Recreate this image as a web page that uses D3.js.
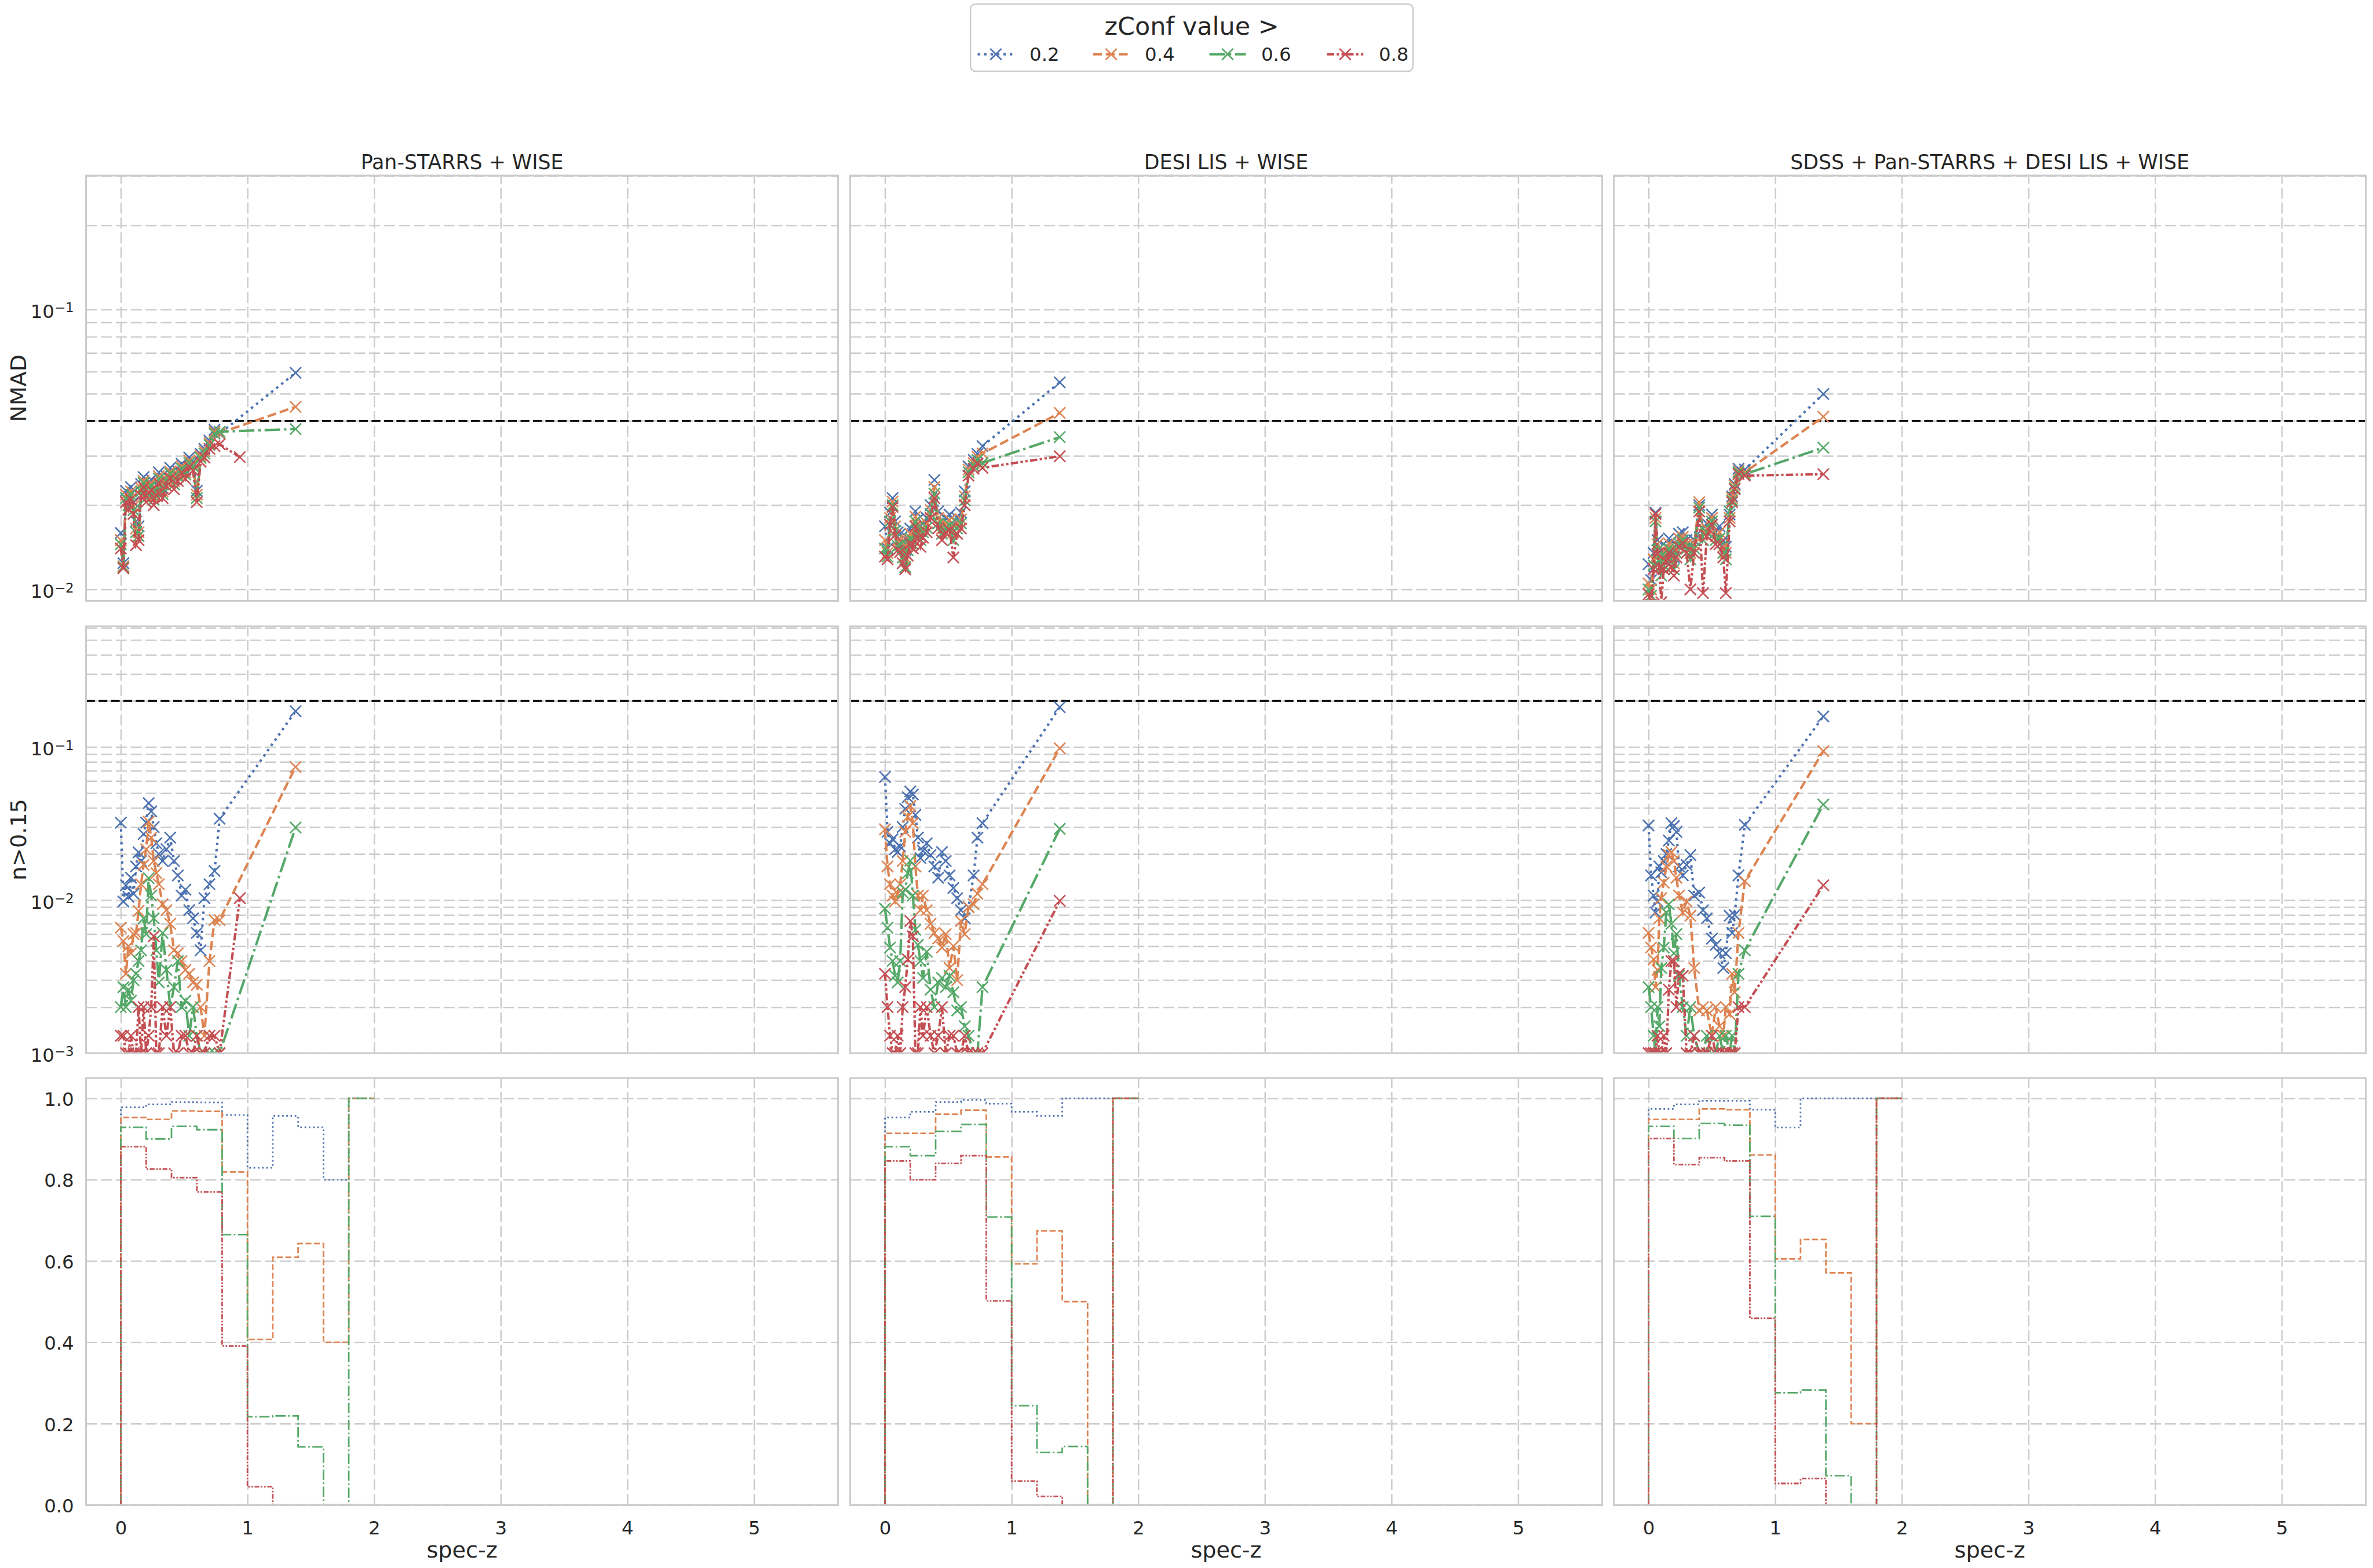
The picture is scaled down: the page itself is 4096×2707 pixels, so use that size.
<!DOCTYPE html>
<html><head><meta charset="utf-8">
<script src="https://cdn.jsdelivr.net/npm/d3@7"></script>
<style>body{margin:0;background:#fff}svg{display:block}</style>
</head><body>
<svg id="c" width="4096" height="2707" viewBox="0 0 4301 2842"></svg>
<script>
// ---------------- DATA ----------------
const surveys = ["Pan-STARRS + WISE", "DESI LIS + WISE", "SDSS + Pan-STARRS + DESI LIS + WISE"];
const zConfLevels = ["0.2", "0.4", "0.6", "0.8"];
const colors = ["#4c72b0", "#dd8452", "#55a868", "#c44e52"];
const xTickValues = [0, 1, 2, 3, 4, 5];
const nmadTickValues = [0.01, 0.1];
const outTickValues = [0.001, 0.01, 0.1];
const fracTickValues = [0.0, 0.2, 0.4, 0.6, 0.8, 1.0];
const nmadThreshold = 0.04;
const outThreshold = 0.2;
const rowLabels = ["NMAD", "n>0.15", ""];

// spec-z bin centres (dense part) per survey
const zDensePS  = [0.00,0.02,0.04,0.06,0.08,0.10,0.12,0.14,0.16,0.18,0.20,0.22,0.24,0.26,0.28,0.30,0.33,0.36,0.39,0.42,0.45,0.48,0.51,0.54,0.57,0.60,0.63,0.66,0.70,0.74,0.78];
const zDenseLS  = [0.00,0.02,0.04,0.06,0.08,0.10,0.12,0.14,0.16,0.18,0.20,0.22,0.24,0.26,0.28,0.30,0.33,0.36,0.39,0.42,0.45,0.48,0.51,0.54,0.57,0.60,0.63,0.66,0.70,0.73,0.77];
const zDenseAll = [0.00,0.02,0.04,0.055,0.07,0.085,0.10,0.12,0.14,0.16,0.18,0.20,0.22,0.24,0.27,0.30,0.33,0.36,0.40,0.43,0.46,0.50,0.53,0.56,0.59,0.61,0.64,0.66,0.68,0.71,0.76];
// last (high-z) bin centre per zConf series
const zTailPS  = [1.38, 1.38, 1.38, 0.94];
const zTailLS  = [1.38, 1.38, 1.38, 1.38];
const zTailAll = [1.38, 1.38, 1.38, 1.38];

// NMAD values (dense bins + tail)
const nmadPS_02 = [0.0159,0.0124,0.0225,0.0214,0.0232,0.0205,0.0175,0.0168,0.0238,0.0252,0.0226,0.0241,0.0247,0.0222,0.0236,0.0262,0.0230,0.0254,0.0272,0.0249,0.0265,0.0281,0.0268,0.0296,0.0285,0.0225,0.0305,0.0318,0.0340,0.0372,0.0360,0.0594];
const nmadPS_04 = [0.0150,0.0121,0.0218,0.0206,0.0224,0.0198,0.0165,0.0160,0.0230,0.0244,0.0218,0.0236,0.0240,0.0215,0.0229,0.0254,0.0224,0.0247,0.0264,0.0243,0.0258,0.0275,0.0262,0.0289,0.0280,0.0218,0.0300,0.0312,0.0333,0.0366,0.0362,0.0449];
const nmadPS_06 = [0.0145,0.0120,0.0212,0.0200,0.0218,0.0192,0.0160,0.0155,0.0224,0.0240,0.0212,0.0230,0.0235,0.0209,0.0224,0.0249,0.0219,0.0242,0.0259,0.0237,0.0253,0.0270,0.0257,0.0283,0.0275,0.0212,0.0295,0.0306,0.0328,0.0360,0.0366,0.0374];
const nmadPS_08 = [0.0140,0.0119,0.0205,0.0193,0.0210,0.0186,0.0144,0.0150,0.0216,0.0232,0.0205,0.0222,0.0226,0.0200,0.0216,0.0240,0.0212,0.0234,0.0250,0.0228,0.0244,0.0262,0.0248,0.0274,0.0266,0.0205,0.0286,0.0296,0.0318,0.0325,0.0330,0.0297];

const nmadLS_02 = [0.0168,0.0140,0.0188,0.0212,0.0175,0.0160,0.0158,0.0148,0.0138,0.0152,0.0165,0.0158,0.0190,0.0178,0.0162,0.0172,0.0180,0.0200,0.0246,0.0190,0.0172,0.0180,0.0185,0.0170,0.0180,0.0188,0.0224,0.0275,0.0290,0.0305,0.0325,0.0549];
const nmadLS_04 = [0.0150,0.0135,0.0180,0.0206,0.0168,0.0150,0.0150,0.0140,0.0130,0.0145,0.0158,0.0150,0.0182,0.0168,0.0155,0.0165,0.0172,0.0192,0.0232,0.0180,0.0165,0.0172,0.0177,0.0160,0.0172,0.0178,0.0215,0.0268,0.0283,0.0298,0.0306,0.0427];
const nmadLS_06 = [0.0140,0.0131,0.0175,0.0200,0.0162,0.0143,0.0144,0.0130,0.0120,0.0138,0.0152,0.0145,0.0175,0.0160,0.0150,0.0160,0.0166,0.0186,0.0220,0.0172,0.0158,0.0166,0.0170,0.0150,0.0165,0.0172,0.0208,0.0262,0.0276,0.0290,0.0283,0.0350];
const nmadLS_08 = [0.0131,0.0128,0.0170,0.0197,0.0156,0.0138,0.0136,0.0124,0.0118,0.0132,0.0146,0.0140,0.0168,0.0152,0.0142,0.0153,0.0160,0.0180,0.0212,0.0165,0.0150,0.0160,0.0163,0.0130,0.0158,0.0165,0.0200,0.0255,0.0270,0.0282,0.0272,0.0299];

const nmadAll_02 = [0.0123,0.0108,0.0135,0.0188,0.0150,0.0140,0.0128,0.0135,0.0142,0.0152,0.0138,0.0130,0.0145,0.0158,0.0160,0.0150,0.0142,0.0150,0.0200,0.0165,0.0172,0.0185,0.0160,0.0168,0.0150,0.0142,0.0185,0.0215,0.0238,0.0270,0.0268,0.0499];
const nmadAll_04 = [0.0105,0.0100,0.0128,0.0180,0.0145,0.0132,0.0120,0.0128,0.0135,0.0146,0.0130,0.0124,0.0140,0.0152,0.0154,0.0145,0.0135,0.0145,0.0205,0.0158,0.0165,0.0180,0.0155,0.0160,0.0142,0.0135,0.0180,0.0212,0.0235,0.0265,0.0262,0.0414];
const nmadAll_06 = [0.0100,0.0095,0.0122,0.0175,0.0138,0.0126,0.0112,0.0122,0.0130,0.0140,0.0125,0.0118,0.0135,0.0146,0.0150,0.0140,0.0128,0.0140,0.0196,0.0150,0.0160,0.0175,0.0150,0.0152,0.0135,0.0128,0.0190,0.0208,0.0230,0.0262,0.0258,0.0321];
const nmadAll_08 = [0.0096,0.0088,0.0118,0.0186,0.0134,0.0120,0.0090,0.0118,0.0126,0.0135,0.0120,0.0112,0.0130,0.0142,0.0146,0.0135,0.0100,0.0135,0.0190,0.0097,0.0155,0.0170,0.0145,0.0145,0.0130,0.0097,0.0175,0.0205,0.0228,0.0258,0.0255,0.0258];

// outlier fraction n>0.15 (dense bins + tail)
const outPS_02 = [0.0320,0.0098,0.0125,0.0105,0.0140,0.0110,0.0166,0.0205,0.0180,0.0270,0.0320,0.0430,0.0380,0.0300,0.0235,0.0200,0.0180,0.0215,0.0256,0.0180,0.0145,0.0107,0.0117,0.0086,0.0076,0.0061,0.0047,0.0103,0.0127,0.0155,0.0340,0.1714];
const outPS_04 = [0.0066,0.0054,0.0033,0.0050,0.0045,0.0060,0.0061,0.0085,0.0127,0.0170,0.0215,0.0325,0.0256,0.0180,0.0150,0.0127,0.0094,0.0086,0.0070,0.0047,0.0045,0.0040,0.0035,0.0033,0.0029,0.0028,0.0020,0.0013,0.0040,0.0074,0.0074,0.0741];
const outPS_06 = [0.0020,0.0027,0.0020,0.0026,0.0022,0.0030,0.0033,0.0040,0.0047,0.0076,0.0060,0.0139,0.0107,0.0076,0.0047,0.0029,0.0061,0.0035,0.0020,0.0027,0.0040,0.0020,0.0022,0.0013,0.0020,0.0013,0.0010,0.0010,0.0010,0.0010,0.0010,0.0298];
const outPS_08 = [0.0013,0.0013,0.0010,0.0010,0.0013,0.0010,0.0010,0.0020,0.0010,0.0020,0.0010,0.0013,0.0020,0.0058,0.0010,0.0010,0.0020,0.0013,0.0020,0.0010,0.0010,0.0013,0.0013,0.0010,0.0010,0.0013,0.0010,0.0010,0.0013,0.0013,0.0010,0.0103];

const outLS_02 = [0.0637,0.0279,0.0235,0.0250,0.0215,0.0206,0.0224,0.0300,0.0395,0.0470,0.0512,0.0490,0.0360,0.0256,0.0188,0.0210,0.0235,0.0197,0.0166,0.0140,0.0206,0.0180,0.0145,0.0120,0.0103,0.0086,0.0076,0.0090,0.0145,0.0256,0.0318,0.1820];
const outLS_04 = [0.0290,0.0166,0.0127,0.0107,0.0098,0.0110,0.0127,0.0180,0.0279,0.0350,0.0412,0.0318,0.0166,0.0107,0.0086,0.0107,0.0086,0.0070,0.0061,0.0056,0.0049,0.0060,0.0036,0.0050,0.0030,0.0073,0.0060,0.0090,0.0094,0.0110,0.0127,0.0980];
const outLS_06 = [0.0088,0.0066,0.0049,0.0040,0.0032,0.0029,0.0040,0.0112,0.0117,0.0150,0.0181,0.0107,0.0064,0.0051,0.0040,0.0031,0.0046,0.0026,0.0020,0.0029,0.0031,0.0027,0.0032,0.0025,0.0019,0.0020,0.0015,0.0013,0.0010,0.0010,0.0027,0.0292];
const outLS_08 = [0.0033,0.0020,0.0013,0.0010,0.0010,0.0013,0.0010,0.0020,0.0027,0.0041,0.0073,0.0058,0.0010,0.0010,0.0020,0.0013,0.0020,0.0013,0.0010,0.0013,0.0020,0.0010,0.0013,0.0013,0.0010,0.0010,0.0013,0.0010,0.0010,0.0010,0.0010,0.0099];

const outAll_02 = [0.0307,0.0145,0.0107,0.0083,0.0098,0.0166,0.0152,0.0180,0.0200,0.0245,0.0318,0.0305,0.0279,0.0166,0.0145,0.0170,0.0197,0.0107,0.0112,0.0086,0.0076,0.0056,0.0051,0.0045,0.0036,0.0045,0.0079,0.0061,0.0080,0.0145,0.0310,0.1585];
const outAll_04 = [0.0061,0.0049,0.0041,0.0027,0.0035,0.0076,0.0103,0.0130,0.0166,0.0197,0.0206,0.0180,0.0140,0.0107,0.0083,0.0098,0.0079,0.0036,0.0019,0.0020,0.0019,0.0013,0.0020,0.0015,0.0013,0.0020,0.0018,0.0033,0.0025,0.0061,0.0133,0.0940];
const outAll_06 = [0.0027,0.0020,0.0013,0.0010,0.0020,0.0015,0.0036,0.0049,0.0083,0.0094,0.0070,0.0045,0.0060,0.0032,0.0020,0.0013,0.0020,0.0013,0.0010,0.0010,0.0013,0.0010,0.0010,0.0013,0.0010,0.0013,0.0010,0.0013,0.0010,0.0033,0.0047,0.0421];
const outAll_08 = [0.0010,0.0010,0.0010,0.0010,0.0013,0.0010,0.0010,0.0013,0.0010,0.0026,0.0040,0.0040,0.0020,0.0033,0.0032,0.0010,0.0010,0.0013,0.0010,0.0010,0.0010,0.0013,0.0010,0.0010,0.0010,0.0010,0.0010,0.0010,0.0010,0.0020,0.0020,0.0125];

// fraction retained per spec-z bin (step histograms)
const binEdges = [0.0,0.2,0.4,0.6,0.8,1.0,1.2,1.4,1.6,1.8,2.0];
const fracPS_02 = [0.978,0.985,0.991,0.990,0.959,0.829,0.957,0.929,0.800,1.0];
const fracPS_04 = [0.953,0.948,0.969,0.968,0.819,0.407,0.609,0.643,0.400,1.0];
const fracPS_06 = [0.929,0.900,0.931,0.923,0.665,0.217,0.219,0.143,0.0,1.0];
const fracPS_08 = [0.881,0.826,0.805,0.770,0.391,0.045,0.0,0.0,0.0,0.0];
const fracLS_02 = [0.953,0.967,0.991,0.996,0.987,0.967,0.957,1.0,1.0,1.0];
const fracLS_04 = [0.914,0.914,0.961,0.971,0.856,0.593,0.674,0.500,0.0,1.0];
const fracLS_06 = [0.881,0.859,0.919,0.936,0.708,0.244,0.129,0.144,0.0,1.0];
const fracLS_08 = [0.846,0.800,0.840,0.859,0.502,0.059,0.021,0.0,0.0,1.0];
const fracAll_02 = [0.974,0.985,0.994,0.994,0.972,0.928,1.0,1.0,1.0,1.0];
const fracAll_04 = [0.948,0.948,0.974,0.972,0.861,0.605,0.653,0.571,0.200,1.0];
const fracAll_06 = [0.931,0.901,0.938,0.934,0.710,0.276,0.283,0.072,0.0,1.0];
const fracAll_08 = [0.901,0.837,0.854,0.846,0.459,0.053,0.065,0.0,0.0,1.0];

// ---------------- ASSEMBLY ----------------
const zDense = [zDensePS, zDenseLS, zDenseAll];
const zTail = [zTailPS, zTailLS, zTailAll];
const nmad = [[nmadPS_02,nmadPS_04,nmadPS_06,nmadPS_08],[nmadLS_02,nmadLS_04,nmadLS_06,nmadLS_08],[nmadAll_02,nmadAll_04,nmadAll_06,nmadAll_08]];
const outl = [[outPS_02,outPS_04,outPS_06,outPS_08],[outLS_02,outLS_04,outLS_06,outLS_08],[outAll_02,outAll_04,outAll_06,outAll_08]];
const frac = [[fracPS_02,fracPS_04,fracPS_06,fracPS_08],[fracLS_02,fracLS_04,fracLS_06,fracLS_08],[fracAll_02,fracAll_04,fracAll_06,fracAll_08]];

// ---------------- LAYOUT / STYLE ----------------
const FONT = "DejaVu Sans";
const TXT = "#262626";
const GRID = "#cccccc";
const colL = [156, 1541, 2925], colW = 1363;
const rowT = [318, 1135, 1954], rowB = [1089, 1909, 2728];
const xDomain = [-0.2745, 5.664];
const yScales = [
  d3.scaleLog().domain([0.0091, 0.301]).range([rowB[0], rowT[0]]),
  d3.scaleLog().domain([0.001, 0.615]).range([rowB[1], rowT[1]]),
  d3.scaleLinear().domain([0, 1.05]).range([rowB[2], rowT[2]])
];
const dashUnits = [[1,1.65],[3.7,1.6],[6.4,1.6,1,1.6],[3,1,1,1,1,1]];
const dash = (i, lw) => dashUnits[i].map(d => (d*lw).toFixed(2)).join(",");
const LW = 4.4, HLW = 2.9, MR = 10.2, MLW = 2.7;
const TICKFS = 34, TITLEFS = 36.5, LABELFS = 40;

const svg = d3.select("#c");
svg.append("rect").attr("width",4301).attr("height",2842).attr("fill","#fff");
const defs = svg.append("defs");

function logGridValues(domain) {
  const out = [];
  for (let e = -4; e <= 1; e++) for (let m = 1; m <= 9; m++) {
    const v = m * Math.pow(10, e);
    if (v >= domain[0]*0.9999 && v <= domain[1]*1.0001) out.push(v);
  }
  return out;
}
const xMark = r => `M${-r},${-r}L${r},${r}M${-r},${r}L${r},${-r}`;

for (let c = 0; c < 3; c++) {
  const xs = d3.scaleLinear().domain(xDomain).range([colL[c], colL[c]+colW]);
  for (let r = 0; r < 3; r++) {
    const ys = yScales[r];
    const top = rowT[r], bot = rowB[r], h = bot - top;
    const id = `clip${c}${r}`;
    defs.append("clipPath").attr("id", id).append("rect")
      .attr("x", colL[c]).attr("y", top).attr("width", colW).attr("height", h);
    const g = svg.append("g");

    // grid: horizontal
    const gv = r < 2 ? logGridValues(ys.domain()) : fracTickValues;
    g.append("g").attr("transform", `translate(${colL[c]},0)`)
      .call(d3.axisLeft(ys).tickValues(gv).tickSize(-colW).tickFormat(""))
      .call(a => a.select(".domain").remove())
      .call(a => a.selectAll("line").attr("stroke", GRID).attr("stroke-width", 2.6).attr("stroke-dasharray", "20,7"));
    // grid: vertical
    g.append("g").attr("transform", `translate(0,${bot})`)
      .call(d3.axisBottom(xs).tickValues(xTickValues).tickSize(-h).tickFormat(""))
      .call(a => a.select(".domain").remove())
      .call(a => a.selectAll("line").attr("stroke", GRID).attr("stroke-width", 2.6).attr("stroke-dasharray", "20,7"));

    const pg = g.append("g").attr("clip-path", `url(#${id})`);
    if (r < 2) {
      const thr = r === 0 ? nmadThreshold : outThreshold;
      pg.append("line").attr("x1", colL[c]).attr("x2", colL[c]+colW)
        .attr("y1", ys(thr)).attr("y2", ys(thr))
        .attr("stroke", "#000").attr("stroke-width", 3.6).attr("stroke-dasharray", "16,6.5");
      const src = r === 0 ? nmad[c] : outl[c];
      for (let s = 0; s < 4; s++) {
        const zs = zDense[c].concat([zTail[c][s]]);
        const pts = src[s].map((v, i) => [zs[i], v]);
        const line = d3.line().x(d => xs(d[0])).y(d => ys(d[1]));
        pg.append("path").attr("d", line(pts)).attr("fill", "none")
          .attr("stroke", colors[s]).attr("stroke-width", LW)
          .attr("stroke-dasharray", dash(s, LW));
        pg.append("g").selectAll("path").data(pts).join("path")
          .attr("transform", d => `translate(${xs(d[0])},${ys(d[1])})`)
          .attr("d", xMark(MR)).attr("fill", "none")
          .attr("stroke", colors[s]).attr("stroke-width", MLW);
      }
    } else {
      for (let s = 0; s < 4; s++) {
        const vals = frac[c][s];
        const pts = [[binEdges[0], 0]];
        vals.forEach((v, i) => { pts.push([binEdges[i], v]); pts.push([binEdges[i+1], v]); });
        const line = d3.line().x(d => xs(d[0])).y(d => ys(d[1]));
        pg.append("path").attr("d", line(pts)).attr("fill", "none")
          .attr("stroke", colors[s]).attr("stroke-width", HLW)
          .attr("stroke-dasharray", dash(s, HLW));
      }
    }
    // frame
    g.append("rect").attr("x", colL[c]).attr("y", top).attr("width", colW).attr("height", h)
      .attr("fill", "none").attr("stroke", GRID).attr("stroke-width", 3.2);

    // y tick labels (first column only)
    if (c === 0) {
      const tv = r === 0 ? nmadTickValues : r === 1 ? outTickValues : fracTickValues;
      const ax = g.append("g").attr("transform", `translate(${colL[c]},0)`)
        .call(d3.axisLeft(ys).tickValues(tv).tickSize(0).tickPadding(22)
          .tickFormat(r === 2 ? d3.format(".1f") : d => String(Math.round(Math.log10(d)))));
      ax.select(".domain").remove();
      ax.attr("font-family", FONT).attr("font-size", TICKFS);
      ax.selectAll("text").attr("fill", TXT);
      if (r < 2) {
        ax.selectAll("text").each(function(d) {
          const t = d3.select(this);
          const ex = Math.round(Math.log10(d));
          t.text("").attr("dy", "0.44em");
          t.append("tspan").text("10");
          t.append("tspan").attr("dy", "-0.42em").attr("font-size", 24).text("\u2212" + Math.abs(ex));
        });
      } else {
        ax.selectAll("text").attr("dy", "0.38em");
      }
    }
    // x tick labels (bottom row only)
    if (r === 2) {
      const ax = g.append("g").attr("transform", `translate(0,${bot})`)
        .call(d3.axisBottom(xs).tickValues(xTickValues).tickSize(0).tickPadding(0).tickFormat(d3.format("d")));
      ax.select(".domain").remove();
      ax.attr("font-family", FONT).attr("font-size", TICKFS);
      ax.selectAll("text").attr("fill", TXT).attr("y", 53).attr("dy", "0");
      svg.append("text").attr("x", colL[c] + colW/2).attr("y", 2823)
        .attr("text-anchor", "middle").attr("font-family", FONT).attr("font-size", LABELFS)
        .attr("fill", TXT).text("spec-z");
    }
    if (r === 0) {
      svg.append("text").attr("x", colL[c] + colW/2).attr("y", 306)
        .attr("text-anchor", "middle").attr("font-family", FONT).attr("font-size", TITLEFS)
        .attr("fill", TXT).text(surveys[c]);
    }
  }
}
// row labels
for (let r = 0; r < 2; r++) {
  const cy = (rowT[r] + rowB[r]) / 2;
  svg.append("text").attr("transform", `translate(47,${cy}) rotate(-90)`)
    .attr("text-anchor", "middle").attr("font-family", FONT).attr("font-size", LABELFS)
    .attr("fill", TXT).text(rowLabels[r]);
}

// legend
const lg = svg.append("g");
lg.append("rect").attr("x", 1759).attr("y", 7).attr("width", 802).attr("height", 122).attr("rx", 9)
  .attr("fill", "#fff").attr("stroke", GRID).attr("stroke-width", 2.6);
lg.append("text").attr("x", 2160).attr("y", 63).attr("text-anchor", "middle")
  .attr("font-family", FONT).attr("font-size", 45).attr("fill", TXT).text("zConf value >");
const legX = [1772, 1981, 2192, 2405];
zConfLevels.forEach((lab, s) => {
  const x0 = legX[s], y0 = 98;
  lg.append("line").attr("x1", x0).attr("x2", x0 + 66).attr("y1", y0).attr("y2", y0)
    .attr("stroke", colors[s]).attr("stroke-width", LW).attr("stroke-dasharray", dash(s, LW));
  lg.append("path").attr("transform", `translate(${x0 + 33},${y0})`).attr("d", xMark(MR))
    .attr("fill", "none").attr("stroke", colors[s]).attr("stroke-width", MLW);
  lg.append("text").attr("x", x0 + 94).attr("y", y0 + 12).attr("font-family", FONT)
    .attr("font-size", TICKFS).attr("fill", TXT).text(lab);
});
</script>
</body></html>
